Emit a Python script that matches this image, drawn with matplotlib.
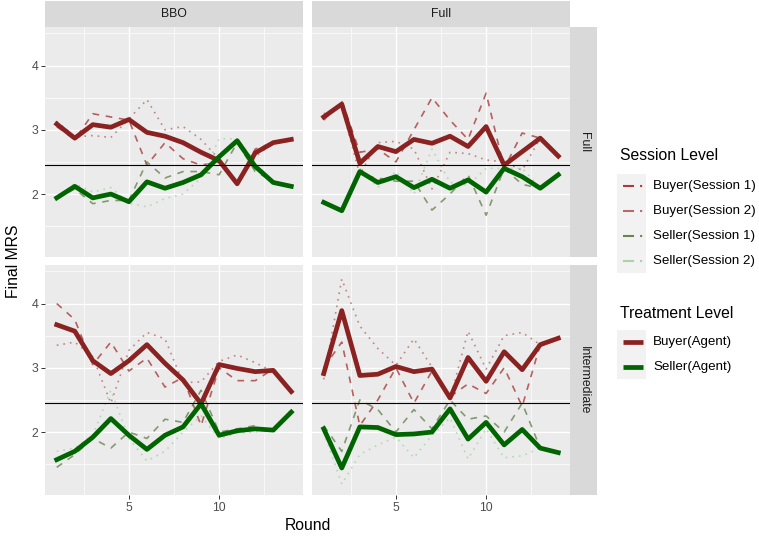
import numpy as np
import matplotlib
matplotlib.use("Agg")
import matplotlib.pyplot as plt
from matplotlib.lines import Line2D
from matplotlib.patches import Rectangle

plt.rcParams['font.family'] = ['Liberation Sans', 'DejaVu Sans']

rounds = list(range(1, 15))
col_labels = ["BBO", "Full"]
row_labels = ["Full", "Intermediate"]
equilibrium_mrs = 2.45

# BBO column, Full row
bbo_full_buyer_agent = [3.09, 2.87, 3.08, 3.04, 3.16, 2.96, 2.90, 2.80, 2.65, 2.52, 2.16, 2.64, 2.80, 2.85]
bbo_full_buyer_s1 = [3.05, 2.85, 3.25, 3.20, 3.15, 2.45, 2.80, 2.55, 2.45, 2.50, 2.15, 2.70, 2.80, 2.85]
bbo_full_buyer_s2 = [3.13, 2.89, 2.91, 2.88, 3.17, 3.47, 3.00, 3.05, 2.85, 2.54, 2.17, 2.58, 2.80, 2.85]
bbo_full_seller_agent = [1.94, 2.12, 1.94, 2.00, 1.88, 2.19, 2.09, 2.18, 2.30, 2.58, 2.83, 2.43, 2.18, 2.12]
bbo_full_seller_s1 = [1.93, 2.08, 1.85, 1.90, 1.90, 2.50, 2.25, 2.35, 2.35, 2.30, 2.80, 2.35, 2.20, 2.12]
bbo_full_seller_s2 = [1.95, 2.16, 2.03, 2.10, 1.86, 1.80, 1.93, 2.00, 2.25, 2.86, 2.86, 2.50, 2.16, 2.12]

# Full column, Full row
full_full_buyer_agent = [3.20, 3.40, 2.48, 2.74, 2.66, 2.85, 2.79, 2.90, 2.74, 3.05, 2.45, 2.66, 2.87, 2.59]
full_full_buyer_s1 = [3.15, 3.45, 2.65, 2.70, 2.50, 3.00, 3.50, 3.15, 2.85, 3.57, 2.40, 2.95, 2.87, 2.59]
full_full_buyer_s2 = [3.25, 3.35, 2.30, 2.80, 2.82, 2.70, 2.08, 2.65, 2.63, 2.53, 2.50, 2.37, 2.87, 2.59]
full_full_seller_agent = [1.87, 1.74, 2.35, 2.18, 2.27, 2.10, 2.23, 2.09, 2.22, 2.03, 2.40, 2.27, 2.09, 2.30]
full_full_seller_s1 = [1.88, 1.75, 2.30, 2.25, 2.20, 2.20, 1.75, 2.00, 2.30, 1.67, 2.40, 2.15, 2.09, 2.30]
full_full_seller_s2 = [1.86, 1.73, 2.40, 2.10, 2.35, 2.00, 2.70, 2.18, 2.14, 2.40, 2.40, 2.40, 2.09, 2.30]

# BBO column, Intermediate row
bbo_int_buyer_agent = [3.67, 3.57, 3.11, 2.91, 3.11, 3.36, 3.07, 2.81, 2.44, 3.05, 2.99, 2.94, 2.96, 2.63]
bbo_int_buyer_s1 = [4.00, 3.75, 3.05, 3.40, 2.95, 3.15, 2.70, 2.85, 2.10, 3.00, 2.80, 2.80, 2.98, 2.63]
bbo_int_buyer_s2 = [3.35, 3.40, 3.17, 2.45, 3.27, 3.55, 3.45, 2.77, 2.78, 3.10, 3.20, 3.08, 2.94, 2.63]
bbo_int_seller_agent = [1.57, 1.70, 1.92, 2.21, 1.95, 1.73, 1.95, 2.08, 2.44, 1.95, 2.02, 2.05, 2.03, 2.31]
bbo_int_seller_s1 = [1.45, 1.65, 1.90, 1.75, 2.00, 1.90, 2.20, 2.15, 2.65, 2.00, 2.05, 2.10, 2.00, 2.31]
bbo_int_seller_s2 = [1.70, 1.75, 1.95, 2.65, 1.90, 1.55, 1.70, 2.00, 2.25, 1.90, 1.98, 2.00, 2.06, 2.31]

# Full column, Intermediate row
full_int_buyer_agent = [2.91, 3.89, 2.88, 2.90, 3.02, 2.94, 2.98, 2.53, 3.16, 2.79, 3.25, 2.97, 3.36, 3.46]
full_int_buyer_s1 = [3.00, 3.40, 2.10, 2.50, 3.00, 2.45, 2.95, 2.55, 2.75, 2.60, 3.00, 2.40, 3.36, 3.46]
full_int_buyer_s2 = [2.82, 4.38, 3.65, 3.30, 3.04, 3.45, 3.01, 2.51, 3.57, 2.98, 3.50, 3.55, 3.36, 3.46]
full_int_seller_agent = [2.05, 1.44, 2.08, 2.07, 1.96, 1.97, 2.00, 2.36, 1.89, 2.15, 1.80, 2.04, 1.75, 1.68]
full_int_seller_s1 = [2.10, 1.70, 2.50, 2.35, 2.00, 2.35, 2.05, 2.50, 2.20, 2.25, 2.00, 2.45, 1.75, 1.68]
full_int_seller_s2 = [2.00, 1.19, 1.65, 1.80, 1.92, 1.60, 1.95, 2.22, 1.58, 2.05, 1.60, 1.63, 1.75, 1.68]

panels = {
    (0, 0): (bbo_full_buyer_s1, bbo_full_buyer_s2, bbo_full_seller_s1, bbo_full_seller_s2,
             bbo_full_buyer_agent, bbo_full_seller_agent),
    (0, 1): (full_full_buyer_s1, full_full_buyer_s2, full_full_seller_s1, full_full_seller_s2,
             full_full_buyer_agent, full_full_seller_agent),
    (1, 0): (bbo_int_buyer_s1, bbo_int_buyer_s2, bbo_int_seller_s1, bbo_int_seller_s2,
             bbo_int_buyer_agent, bbo_int_seller_agent),
    (1, 1): (full_int_buyer_s1, full_int_buyer_s2, full_int_seller_s1, full_int_seller_s2,
             full_int_buyer_agent, full_int_seller_agent),
}

session_labels = ["Buyer(Session 1)", "Buyer(Session 2)", "Seller(Session 1)", "Seller(Session 2)"]
session_colors = ["#a83c3c", "#b86a6a", "#6a8450", "#a9d2a6"]
session_dashes = [(4, 4), (1, 3), (4, 4), (1, 3)]
agent_labels = ["Buyer(Agent)", "Seller(Agent)"]
agent_colors = ["#8b2222", "#006400"]

W, H = 759, 542
fig = plt.figure(figsize=(W / 100, H / 100), dpi=100)


def fx(px):
    return px / W


def fy(py):
    return 1 - py / H


col_x = [(45, 303), (312, 570)]
row_y = [(27, 257), (265, 495)]
strip_top = 1
strip_right = 597

for (r, c), series in panels.items():
    x0, x1 = col_x[c]
    y0, y1 = row_y[r]
    ax = fig.add_axes([fx(x0), fy(y1), fx(x1 - x0), (y1 - y0) / H])
    ax.set_facecolor("#EBEBEB")
    for s in ax.spines.values():
        s.set_visible(False)
    ax.set_xlim(0.35, 14.65)
    ax.set_ylim(1.02, 4.6)
    ax.set_xticks([5, 10])
    ax.set_xticks([2.5, 7.5, 12.5], minor=True)
    ax.set_yticks([2, 3, 4])
    ax.set_yticks([1.5, 2.5, 3.5, 4.5], minor=True)
    ax.grid(which="major", color="white", linewidth=1.0)
    ax.grid(which="minor", color="white", linewidth=0.5)
    ax.set_axisbelow(True)
    ax.tick_params(which="minor", length=0)
    ax.tick_params(which="major", length=3, width=0.7, color="#333333",
                   labelcolor="#4D4D4D", labelsize=8.8, pad=2)
    if r == 0:
        ax.tick_params(axis="x", length=0, labelbottom=False)
    if c == 1:
        ax.tick_params(axis="y", length=0, labelleft=False)

    for vals, col, dsh in zip(series[:4], session_colors, session_dashes):
        ax.plot(rounds, vals, color=col, linewidth=1.2, dashes=dsh, alpha=0.8)
    for vals, col in zip(series[4:], agent_colors):
        ax.plot(rounds, vals, color=col, linewidth=3.4, solid_joinstyle="round")
    ax.axhline(equilibrium_mrs, color="black", linewidth=0.8)

# top strips
for c, lab in enumerate(col_labels):
    x0, x1 = col_x[c]
    fig.add_artist(Rectangle((fx(x0), fy(row_y[0][0])), fx(x1 - x0), (row_y[0][0] - strip_top) / H,
                             transform=fig.transFigure, facecolor="#D9D9D9", edgecolor="none"))
    fig.text(fx((x0 + x1) / 2), fy((strip_top + row_y[0][0]) / 2), lab, ha="center", va="center",
             fontsize=8.8, color="#1A1A1A")

# right strips
for r, lab in enumerate(row_labels):
    y0, y1 = row_y[r]
    fig.add_artist(Rectangle((fx(col_x[1][1]), fy(y1)), fx(strip_right - col_x[1][1]), (y1 - y0) / H,
                             transform=fig.transFigure, facecolor="#D9D9D9", edgecolor="none"))
    fig.text(fx((col_x[1][1] + strip_right) / 2), fy((y0 + y1) / 2), lab, ha="center", va="center",
             rotation=-90, fontsize=8.8, color="#1A1A1A")

# axis titles
fig.text(fx((col_x[0][0] + col_x[1][1]) / 2), fy(526), "Round", ha="center", va="center", fontsize=11.3)
fig.text(fx(14), fy((row_y[0][0] + row_y[1][1]) / 2), "Final MRS", ha="center", va="center",
         rotation=90, fontsize=11.3)

# legends
key_x0, key_x1 = 617, 646
fig.text(fx(620), fy(156), "Session Level", ha="left", va="center", fontsize=11.3)
sess_y = [186, 211, 236, 261]
fig.add_artist(Rectangle((fx(key_x0), fy(sess_y[-1] + 12)), fx(key_x1 - key_x0), (sess_y[-1] - sess_y[0] + 24) / H,
                         transform=fig.transFigure, facecolor="#F2F2F2", edgecolor="none"))
for yy, lab, col in zip(sess_y, session_labels, session_colors):
    fig.add_artist(Line2D([fx(623), fx(643)], [fy(yy), fy(yy)], transform=fig.transFigure,
                          color=col, linewidth=1.5, dashes=(5.3, 2.9, 1.0, 6)))
    fig.text(fx(653), fy(yy), lab, ha="left", va="center", fontsize=9.6, color="black")

fig.text(fx(620), fy(314), "Treatment Level", ha="left", va="center", fontsize=11.3)
agent_y = [342, 367]
fig.add_artist(Rectangle((fx(key_x0), fy(agent_y[-1] + 12)), fx(key_x1 - key_x0), (agent_y[-1] - agent_y[0] + 24) / H,
                         transform=fig.transFigure, facecolor="#F2F2F2", edgecolor="none"))
for yy, lab, col in zip(agent_y, agent_labels, agent_colors):
    fig.add_artist(Line2D([fx(623), fx(643)], [fy(yy), fy(yy)], transform=fig.transFigure,
                          color=col, linewidth=3.4, solid_capstyle="butt"))
    fig.text(fx(653), fy(yy), lab, ha="left", va="center", fontsize=9.6, color="black")

fig.savefig("out.png", dpi=100)
